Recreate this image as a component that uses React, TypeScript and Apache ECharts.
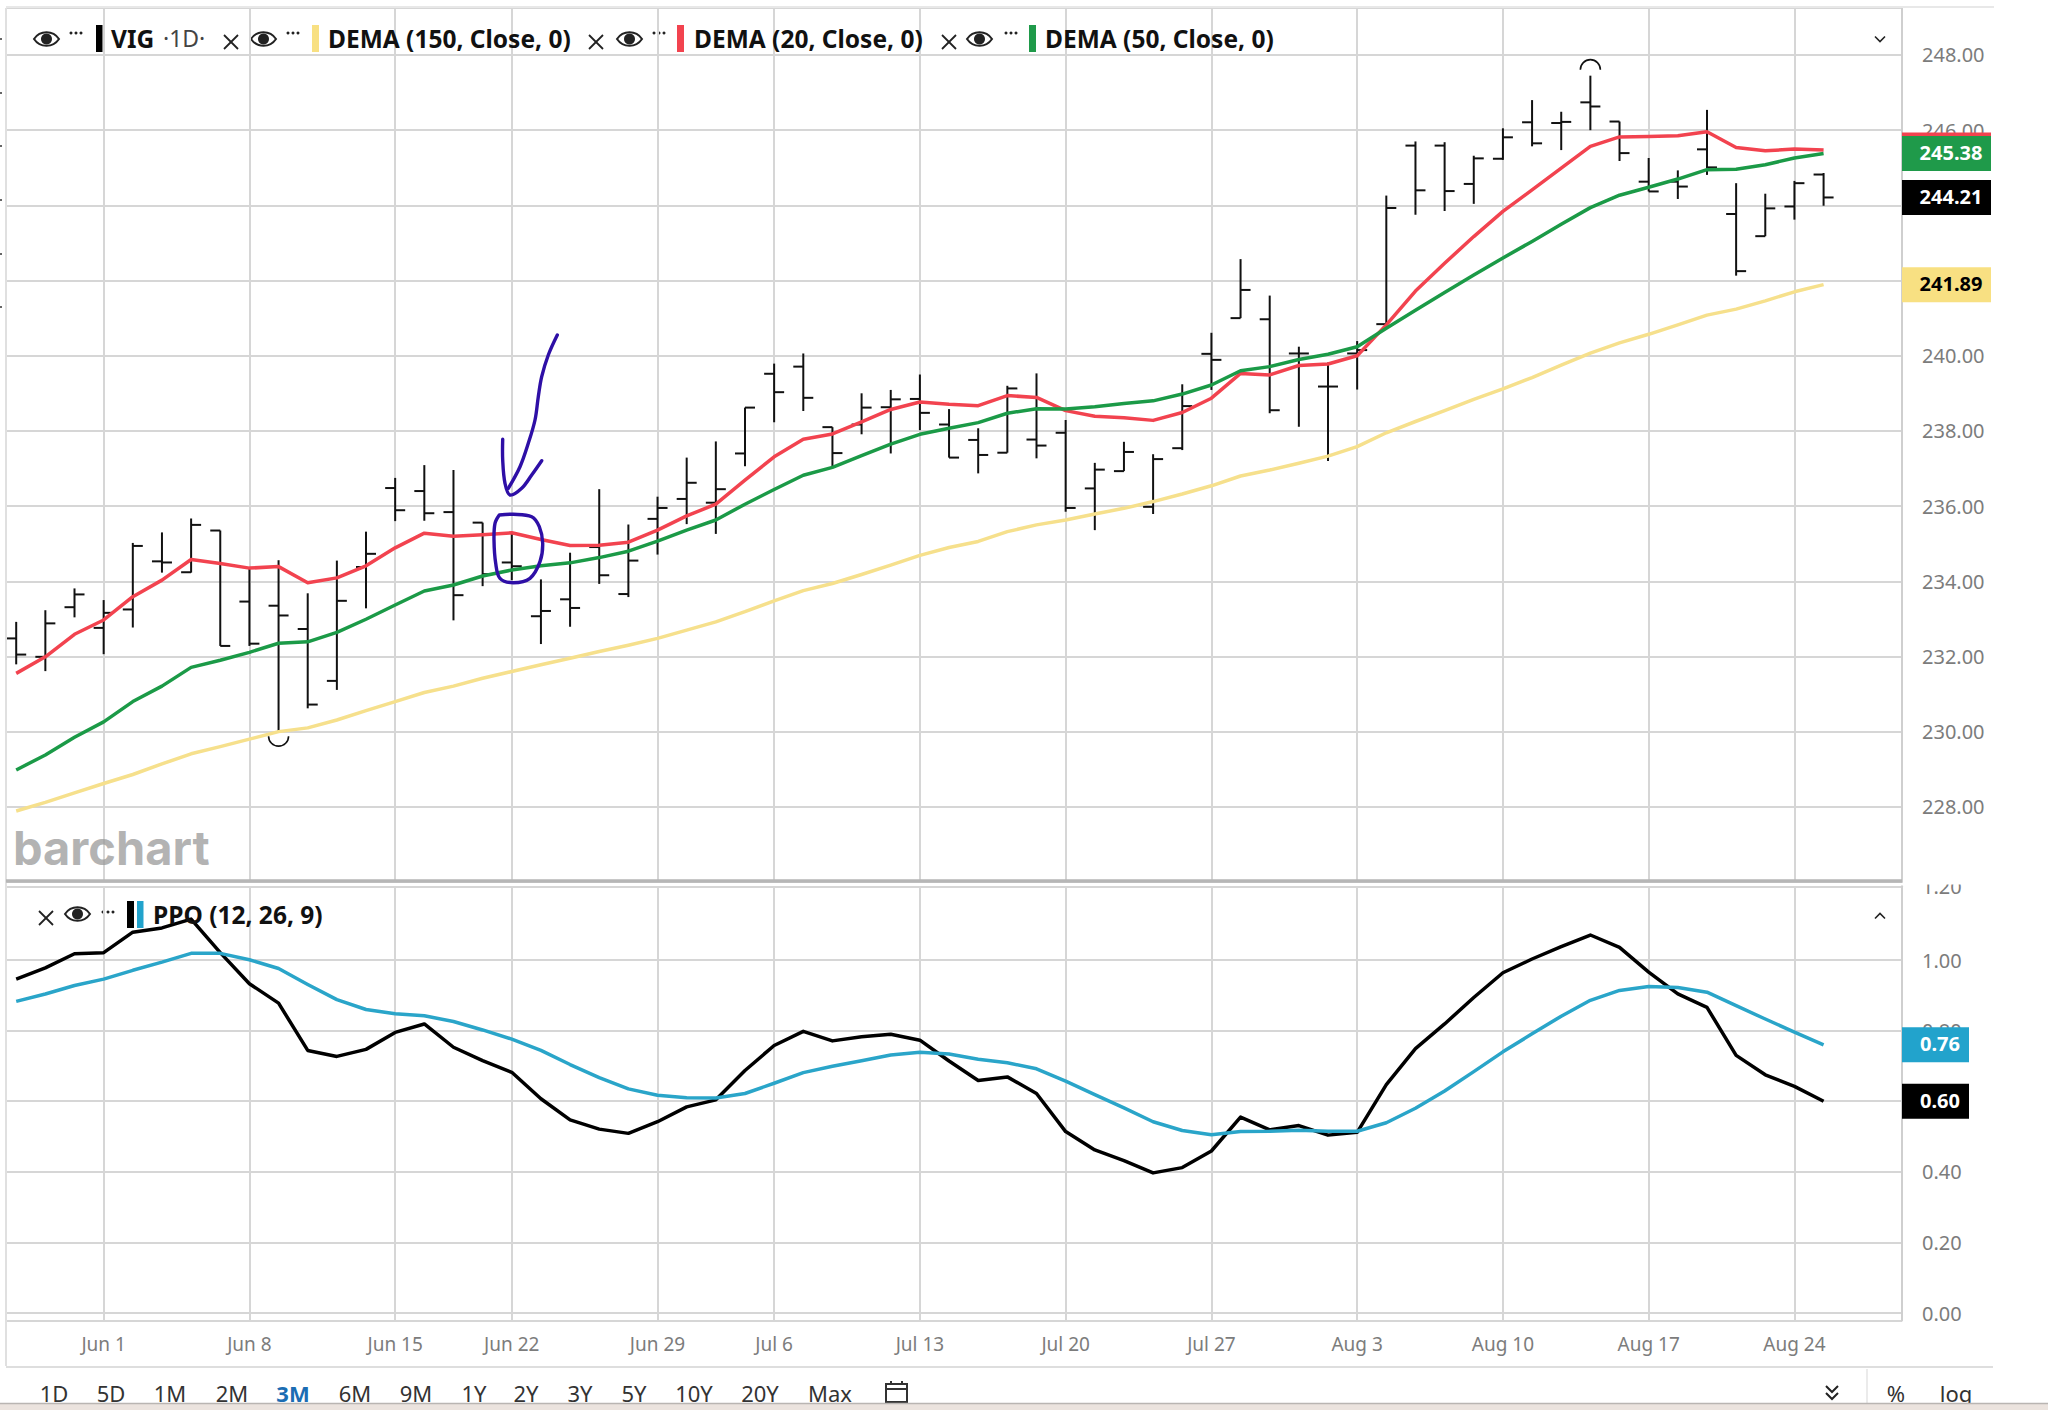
import React, { useEffect, useRef } from "react";
import * as echarts from "echarts";

const tradingDays = [
  "May 27","May 28","May 29",
  "Jun 1","Jun 2","Jun 3","Jun 4","Jun 5","Jun 8","Jun 9","Jun 10","Jun 11","Jun 12",
  "Jun 15","Jun 16","Jun 17","Jun 18","Jun 22","Jun 23","Jun 24","Jun 25","Jun 26",
  "Jun 29","Jun 30","Jul 1","Jul 2","Jul 6","Jul 7","Jul 8","Jul 9","Jul 10",
  "Jul 13","Jul 14","Jul 15","Jul 16","Jul 17","Jul 20","Jul 21","Jul 22","Jul 23","Jul 24",
  "Jul 27","Jul 28","Jul 29","Jul 30","Jul 31","Aug 3","Aug 4","Aug 5","Aug 6","Aug 7",
  "Aug 10","Aug 11","Aug 12","Aug 13","Aug 14","Aug 17","Aug 18","Aug 19","Aug 20","Aug 21",
  "Aug 24","Aug 25",
];
const tickDates = ["Jun 1","Jun 8","Jun 15","Jun 22","Jun 29","Jul 6","Jul 13","Jul 20","Jul 27","Aug 3","Aug 10","Aug 17","Aug 24"];

const highs = [232.92,233.23,233.81,233.5,235.02,235.3,235.67,235.35,234.34,234.56,233.68,234.55,235.32,236.75,237.09,236.96,235.56,235.27,234.05,234.76,236.45,235.51,236.25,237.29,237.72,238.62,239.79,240.06,238.1,239.0,239.09,239.5,238.58,238.07,239.2,239.53,238.29,237.15,237.71,237.38,239.24,240.61,242.57,241.6,240.24,239.82,240.39,244.26,245.7,245.68,245.32,246.05,246.8,246.49,247.45,246.23,245.26,244.93,246.54,244.59,244.31,244.65,244.86];
const lows = [231.79,231.61,233.04,232.06,232.77,234.23,234.23,232.28,232.28,230.0,230.62,231.11,233.28,235.6,235.61,232.96,233.87,234.03,232.33,232.79,233.93,233.58,234.71,235.52,235.26,237.06,238.23,238.53,237.05,237.91,237.4,238.02,237.29,236.87,237.42,237.27,235.85,235.36,236.93,235.79,237.49,239.09,241.0,238.47,238.11,237.2,239.1,240.71,243.75,243.85,244.04,245.21,245.57,245.47,246.0,245.18,244.37,244.17,244.81,242.13,243.18,243.62,243.99];
const opens = [232.48,231.99,233.31,232.76,233.25,234.53,234.24,235.35,233.46,233.35,232.73,231.35,234.38,236.48,236.4,235.84,235.56,234.5,233.07,233.52,234.91,233.66,235.66,236.19,236.09,237.4,239.52,239.71,238.1,238.17,238.63,238.85,238.17,237.76,237.42,237.77,237.95,236.47,236.93,235.98,237.54,240.05,241.0,240.97,240.06,239.18,240.06,240.84,245.59,245.59,244.57,245.24,246.21,246.19,246.74,246.23,244.63,244.63,245.49,243.77,243.18,243.97,244.82];
const closes = [232.05,232.88,233.65,233.16,234.94,234.5,235.5,232.28,232.34,233.09,230.72,233.48,234.73,235.89,235.81,233.63,234.19,234.4,233.21,233.29,234.16,234.55,235.95,236.62,236.45,238.62,239.03,238.88,237.41,238.62,238.84,238.48,237.29,237.36,239.13,237.61,235.95,236.97,237.44,237.25,238.66,239.89,241.75,238.55,240.06,239.18,240.15,243.93,244.4,244.38,245.25,245.81,245.65,246.22,246.63,245.39,244.37,244.5,245.01,242.25,243.92,244.59,244.21];

const dema20 = [231.55,231.99,232.59,232.97,233.59,234.03,234.58,234.47,234.35,234.39,233.96,234.09,234.41,234.89,235.28,235.2,235.24,235.29,235.11,234.95,234.96,235.04,235.36,235.74,236.05,236.69,237.31,237.78,237.92,238.24,238.57,238.77,238.71,238.67,238.94,238.89,238.54,238.39,238.35,238.28,238.49,238.87,239.53,239.49,239.74,239.78,240.0,240.82,241.72,242.46,243.17,243.84,244.41,244.99,245.57,245.82,245.83,245.85,245.96,245.54,245.45,245.5,245.47];
const dema50 = [228.98,229.38,229.85,230.26,230.8,231.21,231.71,231.9,232.11,232.35,232.39,232.64,232.99,233.37,233.74,233.9,234.14,234.3,234.41,234.49,234.63,234.8,235.07,235.36,235.63,236.05,236.44,236.82,237.03,237.34,237.65,237.91,238.07,238.22,238.47,238.59,238.58,238.64,238.73,238.8,238.98,239.22,239.6,239.71,239.9,240.04,240.24,240.73,241.21,241.68,242.15,242.6,243.04,243.5,243.94,244.27,244.48,244.7,244.95,244.96,245.08,245.26,245.38];
const dema150 = [227.89,228.12,228.37,228.62,228.86,229.14,229.41,229.6,229.8,230.0,230.1,230.31,230.56,230.8,231.04,231.21,231.42,231.6,231.78,231.95,232.13,232.3,232.48,232.7,232.92,233.19,233.48,233.75,233.94,234.18,234.43,234.69,234.9,235.06,235.32,235.5,235.63,235.79,235.94,236.12,236.32,236.54,236.8,236.96,237.14,237.33,237.58,237.95,238.25,238.54,238.84,239.12,239.42,239.75,240.07,240.34,240.57,240.82,241.08,241.24,241.46,241.7,241.89];
const ppoLine = [0.946,0.978,1.018,1.021,1.079,1.091,1.116,1.021,0.933,0.878,0.744,0.727,0.747,0.795,0.819,0.753,0.715,0.682,0.607,0.547,0.521,0.509,0.542,0.584,0.604,0.687,0.758,0.798,0.771,0.783,0.79,0.773,0.714,0.659,0.669,0.622,0.514,0.462,0.432,0.397,0.412,0.459,0.555,0.519,0.531,0.504,0.512,0.647,0.749,0.819,0.894,0.964,1.003,1.038,1.071,1.036,0.966,0.904,0.866,0.73,0.675,0.642,0.6];
const ppoSignal = [0.883,0.904,0.928,0.946,0.971,0.994,1.019,1.019,1.001,0.976,0.931,0.888,0.86,0.848,0.842,0.826,0.802,0.776,0.744,0.704,0.667,0.635,0.617,0.61,0.609,0.622,0.651,0.681,0.699,0.715,0.731,0.739,0.734,0.719,0.709,0.692,0.657,0.619,0.581,0.542,0.517,0.505,0.514,0.515,0.518,0.515,0.515,0.539,0.58,0.629,0.684,0.74,0.791,0.841,0.886,0.914,0.925,0.922,0.909,0.871,0.833,0.796,0.76];

const priceGridTicks = [228,230,232,234,236,238,240,242,244,246,248];
const priceLabelTicks = [228,230,232,234,236,238,240,246,248];
const ppoTicks = [0,0.2,0.4,0.6,0.8,1.0];
const priceTags = [
  { v: 245.47, bg: "#f2434f", fg: "#ffffff", label: "" },
  { v: 245.38, bg: "#1f9a4a", fg: "#ffffff", label: "245.38" },
  { v: 244.21, bg: "#000000", fg: "#ffffff", label: "244.21" },
  { v: 241.89, bg: "#f8e082", fg: "#000000", label: "241.89" },
];
const ppoTags = [
  { v: 0.76, bg: "#22a3cc", fg: "#ffffff", label: "0.76" },
  { v: 0.6, bg: "#000000", fg: "#ffffff", label: "0.60" },
];
const rangeLabels = ["1D","5D","1M","2M","3M","6M","9M","1Y","2Y","3Y","5Y","10Y","20Y","Max"];
const rangeCenters = [54,111,170,232,293,355,416,474,526,580,634,694,760,830];
const clippedMarks = [38,92,145,199,253,306];

const FONT = '"Noto Sans", "Open Sans", sans-serif';
const GRID = "#d6d6d6";
const AX_TEXT = "#7c7c7c";
const X_MIN = -0.35;
const X_MAX = 64.69;
const PRICE_MIN = 226;
const PRICE_MAX = 249.25;
const PPO_MIN = -0.0212;
const PPO_MAX = 1.209;
const tickIdx = tickDates.map((d) => tradingDays.indexOf(d));
const pairs = (a: number[]) => a.map((v, i) => [i, v]);

echarts.graphic.registerShape(
  "eyeShape",
  echarts.graphic.extendPath("M0 7.5 C6 -1.5 19 -1.5 25 7.5 C19 16.5 6 16.5 0 7.5 Z", {})
);

const lineSeries = (name: string, data: number[], color: string, idx: number, width = 3.5) => ({
  name,
  type: "line",
  xAxisIndex: idx,
  yAxisIndex: idx,
  data: pairs(data),
  showSymbol: false,
  symbol: "none",
  smooth: false,
  z: 5,
  lineStyle: { color, width, join: "round" },
  silent: true,
});

const tagSeries = (tags: typeof priceTags, idx: number, xMax: number, w: number, tx: number) => ({
  type: "custom",
  xAxisIndex: idx,
  yAxisIndex: idx,
  z: 20,
  silent: true,
  data: tags.map((t) => [xMax, t.v]),
  renderItem: (params: any, api: any) => {
    const t = tags[params.dataIndex];
    const p = api.coord([api.value(0), api.value(1)]);
    const children: any[] = [
      { type: "rect", shape: { x: p[0], y: p[1] - 17.5, width: w, height: 35 }, style: { fill: t.bg } },
    ];
    if (t.label) {
      children.push({
        type: "text",
        style: {
          text: t.label, x: p[0] + tx, y: p[1] - 1, fill: t.fg,
          fontFamily: FONT, fontSize: 20, fontWeight: 700, align: "center", verticalAlign: "middle",
        },
      });
    }
    return { type: "group", children };
  },
});

const eye = (x: number, y: number) => ({
  type: "group",
  children: [
    { type: "eyeShape", x, y: y - 7.5, style: { fill: "none", stroke: "#222", lineWidth: 2 } },
    { type: "circle", shape: { cx: x + 12.5, cy: y, r: 5.5 }, style: { fill: "#222" } },
  ],
});
const dots = (cx: number, cy: number) => ({
  type: "group",
  children: [-5, 0, 5].map((d) => ({ type: "circle", shape: { cx: cx + d, cy, r: 1.5 }, style: { fill: "#222" } })),
});
const cross = (cx: number, cy: number) => ({
  type: "group",
  children: [
    { type: "line", shape: { x1: cx - 7, y1: cy - 7, x2: cx + 7, y2: cy + 7 }, style: { stroke: "#222", lineWidth: 1.8 } },
    { type: "line", shape: { x1: cx + 7, y1: cy - 7, x2: cx - 7, y2: cy + 7 }, style: { stroke: "#222", lineWidth: 1.8 } },
  ],
});
const swatch = (x: number, y: number, w: number, h: number, fill: string) => ({
  type: "rect", shape: { x, y, width: w, height: h }, style: { fill },
});
const label = (text: string, x: number, y: number, o: any = {}) => ({
  type: "text",
  style: { text, x, y, fill: "#111", fontFamily: FONT, fontSize: 24.5, fontWeight: 700, verticalAlign: "middle", ...o },
});
const hline = (x1: number, x2: number, y: number, stroke: string, lineWidth: number) => ({
  type: "line", shape: { x1, y1: y, x2, y2: y }, style: { stroke, lineWidth },
});
const vline = (x: number, y1: number, y2: number, stroke: string, lineWidth: number) => ({
  type: "line", shape: { x1: x, y1, x2: x, y2 }, style: { stroke, lineWidth },
});
const chevron = (cx: number, cy: number, dir: number, size = 5, w = 1.6) => ({
  type: "polyline",
  shape: { points: [[cx - size, cy - (dir * size) / 2], [cx, cy + (dir * size) / 2], [cx + size, cy - (dir * size) / 2]] },
  style: { stroke: "#222", fill: "none", lineWidth: w },
});

const PURPLE = "#2e0fa6";
const scribble = (points: number[][]) => ({
  type: "polyline",
  shape: { points, smooth: 0.35 },
  style: { stroke: PURPLE, fill: "none", lineWidth: 3.4, lineCap: "round", lineJoin: "round" },
});

const baseX = (gridIndex: number, showLabels: boolean) => ({
  type: "value",
  gridIndex,
  min: X_MIN,
  max: X_MAX,
  axisLine: { show: false },
  axisTick: { show: showLabels, length: 8, customValues: tickIdx, lineStyle: { color: GRID, width: 2 } },
  axisLabel: {
    show: showLabels,
    customValues: tickIdx,
    formatter: (v: number) => tradingDays[v] ?? "",
    margin: 14,
    color: AX_TEXT,
    fontFamily: FONT,
    fontSize: 19,
  },
  splitLine: { show: true, lineStyle: { color: GRID, width: 2 } },
});

const baseY = (gridIndex: number, min: number, max: number, gridTicks: number[], labelTicks: number[], fmt: (v: number) => string) => ({
  type: "value",
  gridIndex,
  position: "right",
  min,
  max,
  axisLine: { show: true, onZero: false, lineStyle: { color: "#cfcfcf", width: 2 } },
  axisTick: { show: false, customValues: [min, ...gridTicks, max] },
  axisLabel: {
    customValues: labelTicks,
    formatter: fmt,
    margin: 20,
    color: AX_TEXT,
    fontFamily: FONT,
    fontSize: 20,
  },
  splitLine: { show: true, lineStyle: { color: GRID, width: 2 } },
});

export default function App() {
  const ref = useRef<HTMLDivElement>(null);
  useEffect(() => {
    document.body.style.margin = "0";
    const chart = echarts.init(ref.current!, undefined, { renderer: "svg" });
    const graphics: any[] = [
      // chart frame
      hline(6, 1994, 7, "#e8e8e8", 2),
      vline(6, 8, 1366, "#e0e0e0", 2),
      hline(6, 1902, 881, "#b6b6b6", 3.5),
      hline(6, 1993, 1367, "#dedede", 2),
      vline(1867, 1369, 1404, "#e4e4e4", 1.5),
      ...clippedMarks.map((y) => swatch(0, y, 2, 2, "#666")),
      { type: "rect", shape: { x: 1903, y: 870, width: 90, height: 14.5 }, style: { fill: "#ffffff" } },
      // watermark
      { type: "text", style: { text: "barchart", x: 13, y: 847, fill: "rgba(150,150,150,0.72)", fontFamily: "Inter, sans-serif", fontSize: 47, fontWeight: 700, verticalAlign: "middle" } },
      // top legend
      eye(34, 39), dots(76, 33), swatch(96, 25, 6.5, 27, "#000"),
      label("VIG", 111, 38),
      label("·1D·", 163, 38, { fontWeight: 400, fill: "#444", fontSize: 23 }),
      cross(231, 42), eye(251, 39), dots(293, 33), swatch(312, 25, 7, 27, "#f8e082"),
      label("DEMA (150, Close, 0)", 328, 38),
      cross(596, 42), eye(617, 39), dots(659, 33), swatch(677, 25, 7, 27, "#f2434f"),
      label("DEMA (20, Close, 0)", 694, 38),
      cross(949, 42), eye(967, 39), dots(1011, 33), swatch(1029, 25, 7, 27, "#1f9a4a"),
      label("DEMA (50, Close, 0)", 1045, 38),
      chevron(1880, 39, 1),
      // PPO legend
      cross(46, 918), eye(65, 914), dots(108, 912), swatch(127, 901, 7, 27, "#000"), swatch(137, 901, 6.5, 27, "#22a3cc"),
      label("PPO (12, 26, 9)", 153, 914),
      chevron(1880, 916, -1),
      // range buttons
      ...rangeLabels.map((t, i) =>
        label(t, rangeCenters[i], 1393, {
          align: "center",
          fontSize: 22,
          fontWeight: t === "3M" ? 700 : 400,
          fill: t === "3M" ? "#1b6db3" : "#333",
        })
      ),
      { type: "rect", shape: { x: 886, y: 1384, width: 21, height: 18 }, style: { fill: "none", stroke: "#333", lineWidth: 2 } },
      hline(886, 907, 1389, "#333", 2),
      vline(891, 1381, 1385, "#333", 2),
      vline(902, 1381, 1385, "#333", 2),
      chevron(1832, 1389, 1, 6, 2),
      chevron(1832, 1396, 1, 6, 2),
      label("%", 1896, 1393, { align: "center", fontSize: 22, fontWeight: 400, fill: "#333" }),
      label("log", 1956, 1393, { align: "center", fontSize: 22, fontWeight: 400, fill: "#333" }),
      { type: "rect", shape: { x: 0, y: 1403, width: 2048, height: 7 }, style: { fill: "#ebe3de" } },
      hline(0, 2048, 1403.5, "#b9b5b2", 1.5),
      // hand drawn marks
      scribble([[557.3,335],[548.3,355],[541.7,376.7],[538.3,396.7],[535,420],[528.3,443.3],[520,466.7],[508.3,488.3]]),
      scribble([[502.7,439.3],[502.7,460],[505,483.3],[510,495],[521.7,488.3],[531.7,475],[541.7,460.7]]),
      scribble([[499.3,515],[513.3,514.3],[531.7,516.7],[539.3,526.7],[542.7,543.3],[540,561.7],[530,578.3],[513.3,582.7],[500,578.3],[495.7,563.3],[494,540],[495,523.3],[499.3,515]]),
    ].map((g) => ({ z: 30, ...g }));

    const maxHigh = Math.max(...highs);
    const minLow = Math.min(...lows);

    chart.setOption({
      animation: false,
      backgroundColor: "#ffffff",
      grid: [
        { left: 6, top: 8, width: 1896, height: 874 },
        { left: 6, top: 886.3, width: 1896, height: 434.2 },
      ],
      xAxis: [baseX(0, false), baseX(1, true)],
      yAxis: [
        baseY(0, PRICE_MIN, PRICE_MAX, priceGridTicks, priceLabelTicks, (v) => v.toFixed(2)),
        baseY(1, PPO_MIN, PPO_MAX, ppoTicks, [...ppoTicks, PPO_MAX], (v) => (v === PPO_MAX ? "1.20" : v.toFixed(2))),
      ],
      series: [
        {
          type: "custom",
          name: "VIG",
          xAxisIndex: 0,
          yAxisIndex: 0,
          z: 3,
          silent: true,
          data: highs.map((h, i) => [i, opens[i], closes[i], lows[i], h]),
          encode: { x: 0, y: [1, 2, 3, 4] },
          renderItem: (_p: any, api: any) => {
            const i = api.value(0);
            const pt = (v: number) => api.coord([i, v]);
            const hi = pt(api.value(4));
            const lo = pt(api.value(3));
            const op = pt(api.value(1));
            const cl = pt(api.value(2));
            const st = { stroke: "#111", lineWidth: 2 };
            const children: any[] = [
              { type: "line", shape: { x1: hi[0], y1: hi[1], x2: lo[0], y2: lo[1] }, style: st },
              { type: "line", shape: { x1: op[0] - 10, y1: op[1], x2: op[0], y2: op[1] }, style: st },
              { type: "line", shape: { x1: cl[0], y1: cl[1], x2: cl[0] + 10, y2: cl[1] }, style: st },
            ];
            if (api.value(4) === maxHigh) {
              children.push({
                type: "arc",
                shape: { cx: hi[0], cy: hi[1] - 6, r: 10, startAngle: Math.PI, endAngle: Math.PI * 2, clockwise: true },
                style: { stroke: "#111", lineWidth: 1.6, fill: "none" },
              });
            }
            if (api.value(3) === minLow) {
              children.push({
                type: "arc",
                shape: { cx: lo[0], cy: lo[1] + 4.5, r: 10, startAngle: 0, endAngle: Math.PI, clockwise: true },
                style: { stroke: "#111", lineWidth: 1.6, fill: "none" },
              });
            }
            return { type: "group", children };
          },
        },
        lineSeries("DEMA (150, Close, 0)", dema150, "#f6e08c", 0),
        lineSeries("DEMA (20, Close, 0)", dema20, "#f2434f", 0),
        lineSeries("DEMA (50, Close, 0)", dema50, "#1b9a47", 0),
        lineSeries("PPO", ppoLine, "#000000", 1),
        lineSeries("Signal", ppoSignal, "#2aa5c9", 1),
        tagSeries(priceTags, 0, X_MAX, 89, 49),
        tagSeries(ppoTags, 1, X_MAX, 67, 38),
      ],
      graphic: { elements: graphics },
    });
    return () => chart.dispose();
  }, []);
  return <div ref={ref} style={{ width: 2048, height: 1410 }} />;
}
